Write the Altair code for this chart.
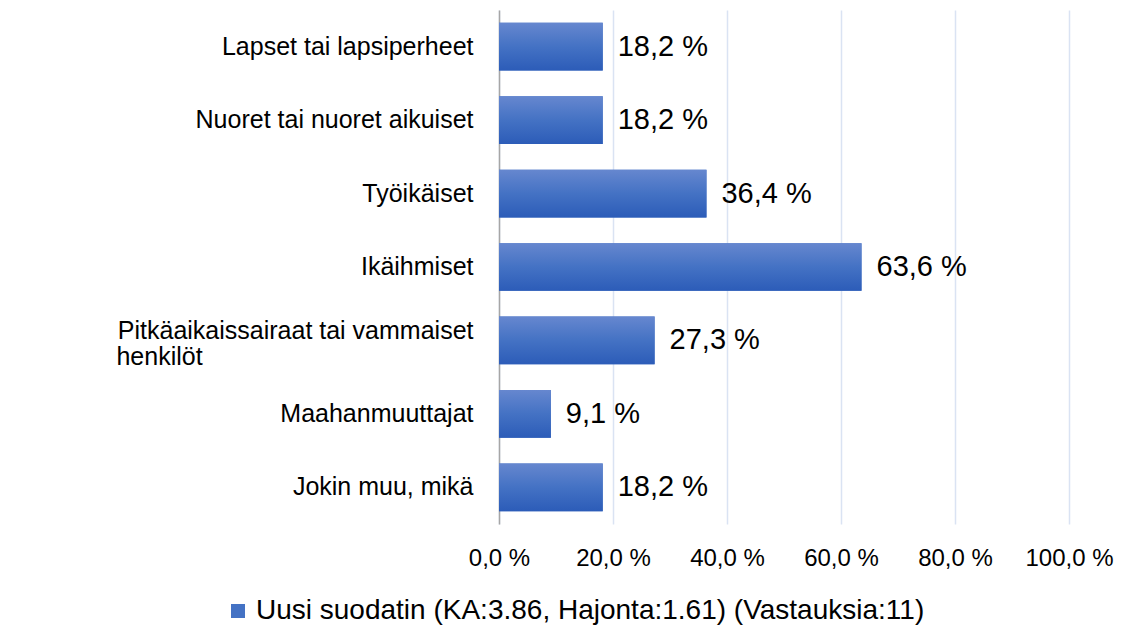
import altair as alt
import pandas as pd

# ---- data ----
categories = [
    "Lapset tai lapsiperheet",
    "Nuoret tai nuoret aikuiset",
    "Työikäiset",
    "Ikäihmiset",
    "Pitkäaikaissairaat tai vammaiset henkilöt",
    "Maahanmuuttajat",
    "Jokin muu, mikä",
]
values = [18.2, 18.2, 36.4, 63.6, 27.3, 9.1, 18.2]
x_ticks = [0, 20, 40, 60, 80, 100]
series_name = "Uusi suodatin (KA:3.86, Hajonta:1.61) (Vastauksia:11)"

df = pd.DataFrame({"category": categories, "value": values})
df["series"] = series_name

FONT = "Liberation Sans"
LONG = "Pitkäaikaissairaat tai vammaiset henkilöt"
pad = "\u00a0" * 39 + "\u200b"
label_expr = (
    f"datum.value == '{LONG}' ? ['Pitkäaikaissairaat tai vammaiset', 'henkilöt{pad}'] : datum.value"
)

grad = alt.Gradient(
    gradient="linear",
    stops=[
        alt.GradientStop(color="#6687CF", offset=0),
        alt.GradientStop(color="#4472C4", offset=0.5),
        alt.GradientStop(color="#2C5CB8", offset=1),
    ],
    x1=0, x2=0, y1=0, y2=1,
)

y_enc = alt.Y(
    "category:N",
    sort=categories,
    scale=alt.Scale(paddingInner=0.35, paddingOuter=0.175),
    axis=alt.Axis(
        title=None,
        labelFont=FONT,
        labelFontSize=25,
        labelColor="#000000",
        labelPadding=26,
        ticks=False,
        tickSize=0,
        domainColor="#A6A6A6",
        domainWidth=1.5,
        labelLimit=0,
        labelLineHeight=26,
        labelExpr=label_expr,
        labelOffset={"condition": {"test": f"datum.value == '{LONG}'", "value": -9}, "value": 0},
    ),
)
x_enc = alt.X(
    "value:Q",
    scale=alt.Scale(domain=[0, 100], nice=False),
    axis=alt.Axis(
        values=x_ticks,
        title=None,
        labelExpr="replace(format(datum.value, '.1f'), '.', ',') + ' %'",
        grid=True,
        gridColor="#DAE3F3",
        gridWidth=1.5,
        domain=False,
        ticks=False,
        tickSize=0,
        labelFont=FONT,
        labelFontSize=24,
        labelColor="#000000",
        labelPadding=22,
        labelFlush=False,
        labelOverlap=False,
    ),
)

legend_bars = alt.Chart(df).mark_bar().encode(
    x=x_enc,
    y=y_enc,
    color=alt.Color(
        "series:N",
        scale=alt.Scale(domain=[series_name], range=["#4472C4"]),
        legend=alt.Legend(
            title=None,
            orient="none",
            legendX=-275,
            legendY=587,
            direction="horizontal",
            symbolType="square",
            symbolSize=196,
            symbolStrokeWidth=0,
            labelFont=FONT,
            labelFontSize=28,
            labelColor="#000000",
            labelLimit=0,
            labelOffset=4,
            padding=0,
        ),
    ),
)

grad_bars = alt.Chart(df).mark_bar(color=grad).encode(x="value:Q", y=alt.Y("category:N", sort=categories))

labels = alt.Chart(df).transform_calculate(
    txt="replace(format(datum.value, '.1f'), '.', ',') + ' %'"
).mark_text(
    align="left", baseline="middle", dx=15, font=FONT, fontSize=29, color="#000000"
).encode(
    x="value:Q",
    y=alt.Y("category:N", sort=categories),
    text="txt:N",
)

chart = (
    alt.layer(legend_bars, grad_bars, labels)
    .properties(
        width=570,
        height=514,
        autosize=alt.AutoSizeParams(type="none"),
        padding={"left": 499, "top": 10, "right": 58, "bottom": 103},
        background="#FFFFFF",
    )
    .configure_view(stroke=None)
)

chart.save("out.html", embed_options={"renderer": "svg", "actions": False})
